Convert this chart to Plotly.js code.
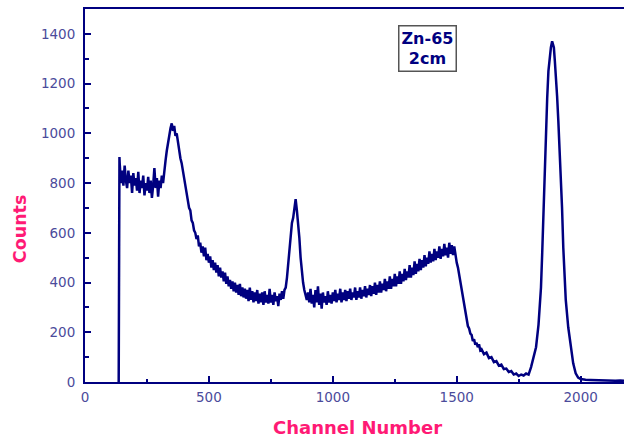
<!DOCTYPE html>
<html>
<head>
<meta charset="utf-8">
<script src="https://cdn.plot.ly/plotly-3.0.1.min.js"></script>
<style>html,body{margin:0;padding:0;background:#fff;}#chart{width:624px;height:439px;}</style>
</head>
<body>
<div id="chart"></div>
<script>
// Spectrum: channel numbers and counts
var startChannels = [136, 137, 139];
var startCounts = [0, 210, 905];

// Noisy part, channels 140..1530 in steps of 5
var noisyFirstChannel = 140;
var noisyStep = 5;
var noisyCounts = [
  880,800,850,790,870,810,780,850,800,830,760,840,790,820,770,845,760,810,780,830,
  750,800,770,825,760,810,740,790,860,780,820,745,810,780,830,800,
  860,890,930,960,1000,1020,1040,1010,1030,990,1000,960,940,900,880,850,830,790,760,740,
  700,690,650,640,610,600,575,590,545,560,520,545,505,540,490,515,480,505,460,490,
  450,480,440,470,425,460,420,445,405,440,395,425,385,410,375,405,365,400,360,390,
  350,395,345,380,340,375,335,370,325,380,330,365,320,360,325,370,315,355,320,360,
  310,365,320,350,315,375,320,350,310,360,325,345,305,355,330,365,335,370,380,420,
  470,540,600,640,660,690,735,690,640,580,500,440,400,370,345,330,360,320,375,315,
  350,300,370,320,385,310,355,295,360,320,345,310,365,320,350,315,360,325,370,320,
  355,330,375,320,360,330,370,325,365,335,375,330,360,340,380,330,365,340,380,335,
  370,345,385,340,375,350,390,345,385,355,400,350,390,360,405,360,395,370,415,365,
  405,375,425,375,415,385,435,385,425,395,445,395,435,405,455,410,445,420,470,420,
  460,430,485,435,475,445,495,450,490,460,510,465,500,475,525,480,515,485,535,490,
  525,500,545,495,535,505,555,510,540,500,560,515,550,510,545,500,480,460,430,400,
  365,335,300
];

// Tail and photo-peak, explicit channels
var tailChannels = [1540,1545,1550,1555,1560,1565,1570,1575,1580,1585,1590,1595,1600,1610,1620,1630,1640,1650,1660,1670,1680,1690,
  1700,1710,1720,1730,1740,1750,1760,1770,1780,1790,1800,1810,1820,1830,1840,1845,1850,1855,1860,1865,
  1870,1875,1880,1885,1888,1892,1896,1900,1905,1910,1915,1920,1925,1930,1935,1940,1950,1960,1970,1980,
  1990,2000,2010,2020,2040,2060,2080,2100,2120,2140,2160,2175];
var tailCounts = [250,225,215,195,190,165,172,150,158,140,152,128,132,112,118,96,100,80,84,66,70,52,
  54,40,44,30,34,24,30,26,34,30,60,95,140,230,380,520,690,860,1010,1140,
  1250,1310,1345,1370,1360,1345,1290,1240,1150,1050,940,830,700,540,420,330,220,140,75,35,
  18,12,10,9,8,7,8,6,7,5,6,5];

var channels = startChannels.slice();
var counts = startCounts.slice();
for (var i = 0; i < noisyCounts.length; i++) {
  channels.push(noisyFirstChannel + i * noisyStep);
  counts.push(noisyCounts[i]);
}
channels = channels.concat(tailChannels);
counts = counts.concat(tailCounts);

var axisColor = '#000080';
var tickColor = '#4b4b9b';
var titleColor = '#ff1a75';
var plotLeft = 85, plotRight = 624, plotTop = 9, plotBottom = 381.7;
function px(xp) { return (xp - plotLeft) / (plotRight - plotLeft); }
function py(yp) { return (plotBottom - yp) / (plotBottom - plotTop); }

var trace = {
  x: channels,
  y: counts,
  type: 'scatter',
  mode: 'lines',
  line: {color: '#000080', width: 2.5},
  hoverinfo: 'skip'
};

var layout = {
  width: 624,
  height: 439,
  margin: {l: 85, r: 0, t: 9, b: 57.3, pad: 0},
  paper_bgcolor: '#ffffff',
  plot_bgcolor: '#ffffff',
  showlegend: false,
  font: {family: 'DejaVu Sans, Verdana, sans-serif'},
  xaxis: {
    range: [0, 2175],
    tickvals: [0, 500, 1000, 1500, 2000],
    ticktext: ['0', '500', '1000', '1500', '2000'],
    ticks: 'inside',
    ticklen: 6,
    tickwidth: 2,
    tickcolor: axisColor,
    minor: {dtick: 250, ticks: 'inside', ticklen: 3, tickwidth: 2, tickcolor: axisColor},
    showline: true,
    linecolor: axisColor,
    linewidth: 2,
    mirror: true,
    showgrid: false,
    zeroline: false,
    ticklabelstandoff: 2,
    tickfont: {size: 13.5, color: tickColor}
  },
  yaxis: {
    range: [0, 1500],
    tickvals: [0, 200, 400, 600, 800, 1000, 1200, 1400],
    ticks: 'inside',
    ticklen: 6,
    tickwidth: 2,
    tickcolor: axisColor,
    minor: {dtick: 100, ticks: 'inside', ticklen: 4, tickwidth: 2, tickcolor: axisColor},
    showline: true,
    linecolor: axisColor,
    linewidth: 2,
    showgrid: false,
    zeroline: false,
    ticklabelstandoff: 5,
    tickfont: {size: 13.5, color: tickColor}
  },
  annotations: [
    {
      xref: 'paper', yref: 'paper',
      x: px(427.5), y: py(48),
      xanchor: 'center', yanchor: 'middle',
      text: '<b>Zn-65</b><br><b>2cm</b>',
      showarrow: false,
      font: {size: 16, color: '#000080'},
      bordercolor: '#555555',
      borderwidth: 1.5,
      borderpad: 2,
      bgcolor: '#ffffff'
    },
    {
      xref: 'paper', yref: 'paper',
      x: px(20), y: py(229),
      xanchor: 'center', yanchor: 'middle',
      textangle: -90,
      text: '<b>Counts</b>',
      showarrow: false,
      font: {size: 17.5, color: titleColor}
    },
    {
      xref: 'paper', yref: 'paper',
      x: px(357), y: py(427),
      xanchor: 'center', yanchor: 'middle',
      text: '<b>Channel Number</b>',
      showarrow: false,
      font: {size: 18, color: titleColor}
    }
  ]
};

Plotly.newPlot('chart', [trace], layout, {displayModeBar: false, staticPlot: true});
</script>
</body>
</html>
